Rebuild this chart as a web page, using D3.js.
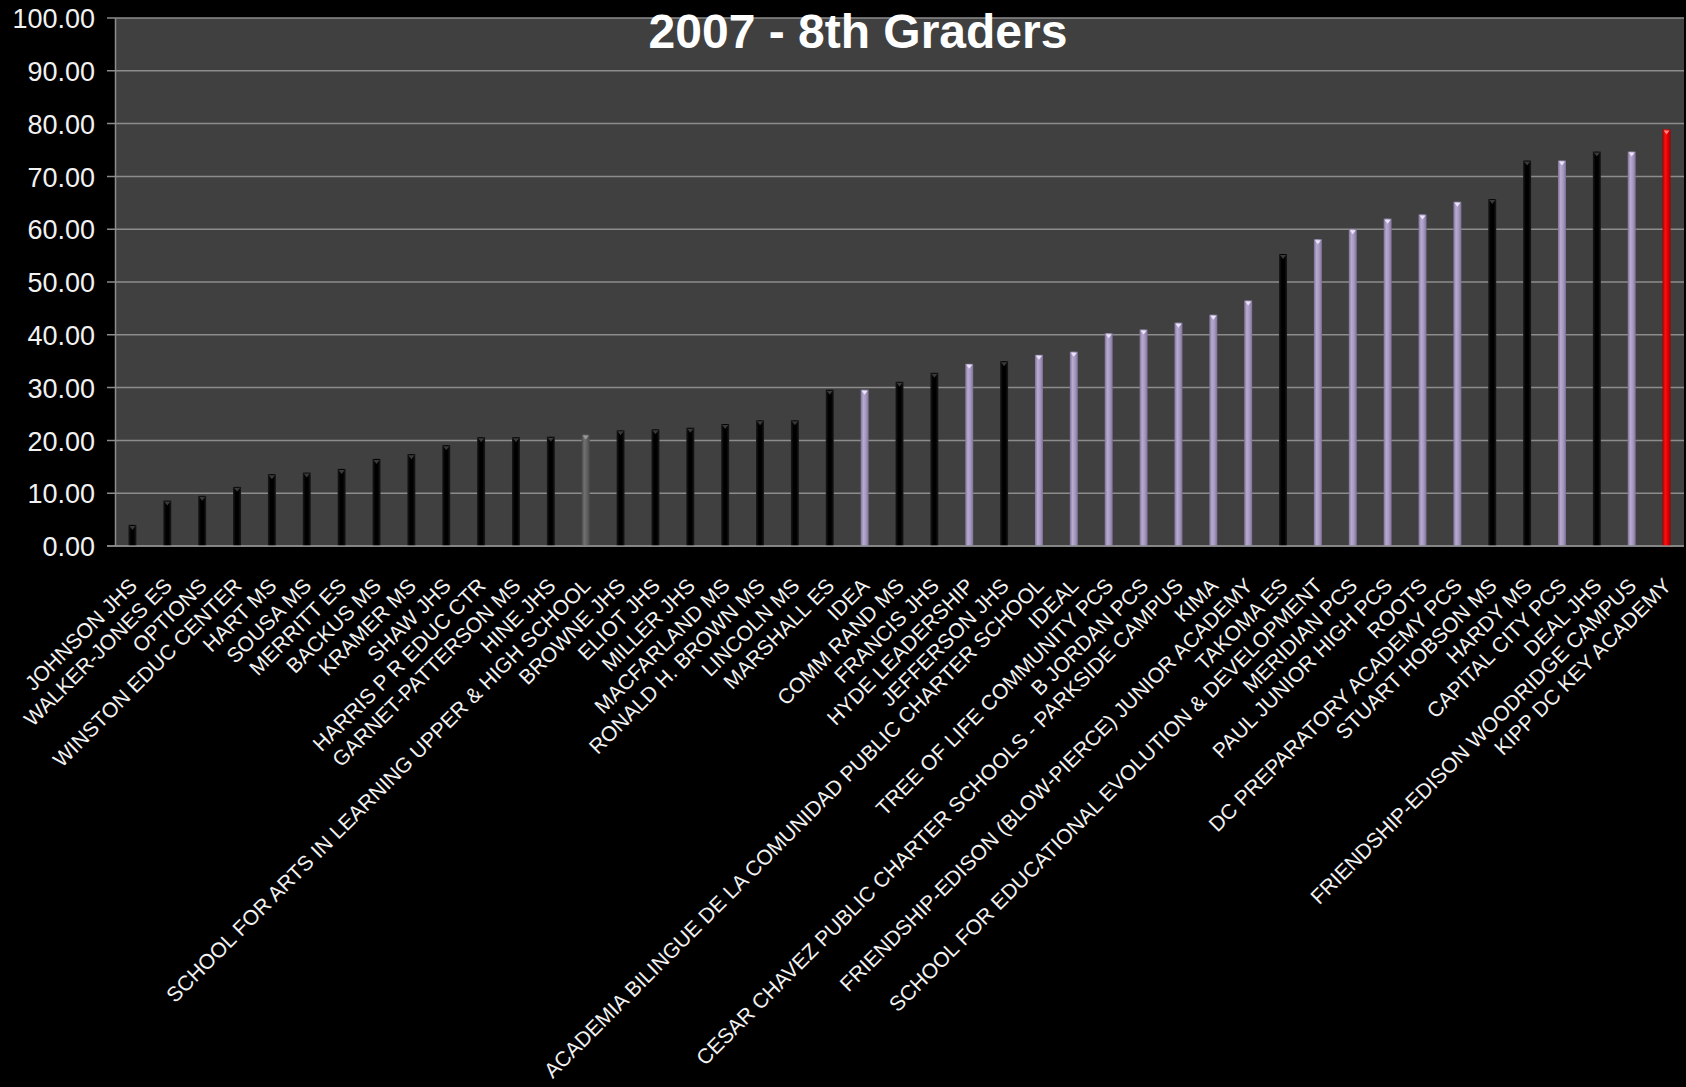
<!DOCTYPE html>
<html lang="en">
    <head>
        <meta charset="utf-8">
        <title>2007 - 8th Graders</title>
        <script type="text/javascript" src="https://d3js.org/d3.v7.min.js"></script>
        <style>
            body { margin: 0; background-color: #000000; }
            .tick-label { font-family: "Liberation Sans", Arial, sans-serif; fill: #f2f2f2; }
        </style>
    </head>
    <body>
        <script>
        // schools, left to right
        const schools = [
            "JOHNSON JHS", "WALKER-JONES ES", "OPTIONS", "WINSTON EDUC CENTER", "HART MS",
            "SOUSA MS", "MERRITT ES", "BACKUS MS", "KRAMER MS", "SHAW JHS",
            "HARRIS P R EDUC CTR", "GARNET-PATTERSON MS", "HINE JHS",
            "SCHOOL FOR ARTS IN LEARNING UPPER & HIGH SCHOOL", "BROWNE JHS",
            "ELIOT JHS", "MILLER JHS", "MACFARLAND MS", "RONALD H. BROWN MS", "LINCOLN MS",
            "MARSHALL ES", "IDEA", "COMM RAND MS", "FRANCIS JHS", "HYDE LEADERSHIP",
            "JEFFERSON JHS", "ACADEMIA BILINGUE DE LA COMUNIDAD PUBLIC CHARTER SCHOOL", "IDEAL",
            "TREE OF LIFE COMMUNITY PCS", "B JORDAN PCS",
            "CESAR CHAVEZ PUBLIC CHARTER SCHOOLS - PARKSIDE CAMPUS", "KIMA",
            "FRIENDSHIP-EDISON (BLOW-PIERCE) JUNIOR ACADEMY", "TAKOMA ES",
            "SCHOOL FOR EDUCATIONAL EVOLUTION & DEVELOPMENT", "MERIDIAN PCS",
            "PAUL JUNIOR HIGH PCS", "ROOTS", "DC PREPARATORY ACADEMY PCS", "STUART HOBSON MS",
            "HARDY MS", "CAPITAL CITY PCS", "DEAL JHS", "FRIENDSHIP-EDISON WOODRIDGE CAMPUS",
            "KIPP DC KEY ACADEMY"
        ];

        // percent values
        const values = [
            4.0, 8.6, 9.5, 11.2, 13.6, 13.9, 14.6, 16.5, 17.4, 19.1,
            20.6, 20.6, 20.7, 21.1, 21.9, 22.1, 22.4, 23.1, 23.8, 23.8,
            29.6, 29.6, 31.1, 32.8, 34.5, 35.0, 36.2, 36.8, 40.3, 41.0,
            42.3, 43.8, 46.5, 55.3, 58.1, 60.0, 62.0, 62.8, 65.2, 65.7,
            73.0, 73.0, 74.7, 74.7, 78.9
        ];

        // school type: d = DCPS, c = charter, s = other, k = KIPP
        const types = [
            "d","d","d","d","d","d","d","d","d","d",
            "d","d","d","s","d","d","d","d","d","d",
            "d","c","d","d","c","d","c","c","c","c",
            "c","c","c","d","c","c","c","c","c","d",
            "d","c","d","c","k"
        ];

        const yTicks = [0, 10, 20, 30, 40, 50, 60, 70, 80, 90, 100];

        const W = 1686, H = 1087;
        const margin = {top: 18, right: 2, bottom: 541, left: 115},
            width = W - margin.left - margin.right,
            height = H - margin.top - margin.bottom;

        const svg0 = d3.select("body")
            .append("svg")
                .attr("width", W)
                .attr("height", H)
                .style("background-color", "#000000");

        // gradients for the bar fills
        const defs = svg0.append("defs");
        const grads = {
            d: ["#1a1a1a", "#000000", "#000000", "#1a1a1a"],
            c: ["#7e7096", "#b8abd0", "#a597c0", "#7e7096"],
            s: ["#4a4a4a", "#707070", "#606060", "#4a4a4a"],
            k: ["#a00000", "#ff1010", "#e00000", "#a00000"]
        };
        Object.keys(grads).forEach(function(k) {
            const g = defs.append("linearGradient")
                .attr("id", "grad-" + k)
                .attr("x1", "0%").attr("x2", "100%").attr("y1", "0%").attr("y2", "0%");
            grads[k].forEach(function(c, i) {
                g.append("stop").attr("offset", (i / 3 * 100) + "%").attr("stop-color", c);
            });
        });
        const capColor = {d: "#3a3a3a", c: "#ece4fa", s: "#9a9a9a", k: "#ff8080"};

        const svg = svg0.append("g")
            .attr("transform", `translate(${margin.left}, ${margin.top})`);

        // plot area
        svg.append("rect")
            .attr("width", width)
            .attr("height", height)
            .attr("fill", "#404040");

        const x = d3.scaleBand()
            .domain(schools)
            .range([0, width]);

        const y = d3.scaleLinear()
            .domain([0, 100])
            .range([height, 0]);

        // gridlines
        svg.selectAll("gridline")
            .data(yTicks)
            .join("line")
            .attr("x1", -8)
            .attr("x2", width)
            .attr("y1", d => y(d))
            .attr("y2", d => y(d))
            .attr("stroke", "#8c8c8c")
            .attr("stroke-width", 1.5);

        // y axis
        const yaxis = d3.axisLeft(y)
            .tickValues(yTicks)
            .tickFormat(d3.format(".2f"))
            .tickSize(0)
            .tickPadding(20);
        const yg = svg.append("g").call(yaxis);
        yg.select(".domain").attr("stroke", "#8c8c8c").attr("stroke-width", 1.5);
        yg.selectAll("text")
            .attr("class", "tick-label")
            .attr("font-size", "27px")
            .attr("dy", "0.36em");

        // bars
        const data = schools.map((s, i) => ({name: s, value: values[i], type: types[i]}));
        const bw = 8;

        svg.selectAll("mybar")
            .data(data)
            .join("rect")
            .attr("x", d => x(d.name) + x.bandwidth() / 2 - bw / 2)
            .attr("y", d => y(d.value))
            .attr("width", bw)
            .attr("height", d => y(0) - y(d.value))
            .attr("fill", d => "url(#grad-" + d.type + ")");

        // little cap marks on top of each bar
        svg.selectAll("mycap")
            .data(data)
            .join("path")
            .attr("d", function(d) {
                const cx = x(d.name) + x.bandwidth() / 2;
                const cy = y(d.value);
                return `M${cx - 3},${cy + 1}L${cx + 3},${cy + 1}L${cx},${cy + 5}Z`;
            })
            .attr("fill", d => capColor[d.type]);

        // x axis line
        svg.append("line")
            .attr("x1", -8)
            .attr("x2", width)
            .attr("y1", height)
            .attr("y2", height)
            .attr("stroke", "#8c8c8c")
            .attr("stroke-width", 1.5);

        // rotated category labels
        svg.selectAll("xlabel")
            .data(schools)
            .join("text")
            .attr("class", "tick-label")
            .attr("font-size", "21px")
            .attr("text-anchor", "end")
            .attr("transform", d => `translate(${x(d) + x.bandwidth() / 2 + 6}, ${height + 41}) rotate(-45)`)
            .text(d => d);

        // title
        svg0.append("text")
            .attr("x", 858)
            .attr("y", 48)
            .attr("text-anchor", "middle")
            .attr("font-family", "Liberation Sans, Arial, sans-serif")
            .attr("font-weight", 700)
            .attr("font-size", "48px")
            .attr("fill", "#ffffff")
            .text("2007 - 8th Graders");
        </script>
    </body>
</html>
